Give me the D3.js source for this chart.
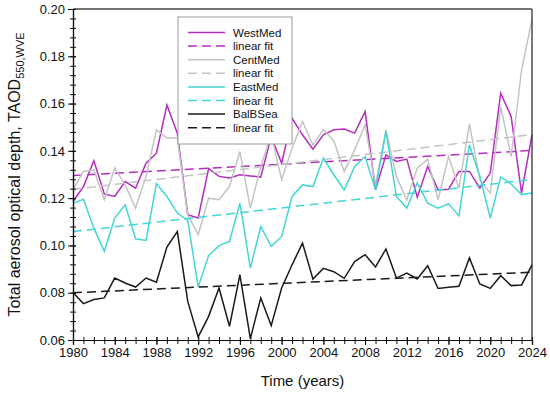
<!DOCTYPE html>
<html>
<head>
<meta charset="utf-8">
<script src="https://cdn.jsdelivr.net/npm/d3@7"></script>
<style>
  body { margin: 0; background: #fff; }
  text { font-family: Arial, "Liberation Sans", sans-serif; fill: #111; }
</style>
</head>
<body>
<svg width="550" height="399"></svg>
<script>
// yearly values
var years = d3.range(1980, 2025);

var westMed = [0.1186,0.1249,0.1358,0.1218,0.1207,0.1270,0.1242,0.1348,0.1390,0.1594,
  0.1475,0.1130,0.1116,0.1325,0.1292,0.1285,0.1299,0.1294,0.1289,0.1461,
  0.1348,0.1538,0.1468,0.1407,0.1468,0.1489,0.1492,0.1475,0.1566,0.1235,
  0.1383,0.1355,0.1365,0.1204,0.1334,0.1235,0.1238,0.1313,0.1313,0.1242,
  0.1306,0.1644,0.1545,0.1221,0.1468];

var centMed = [0.1235,0.1313,0.1320,0.1193,0.1327,0.1256,0.1158,0.1292,0.1489,0.1454,
  0.1454,0.1130,0.1045,0.1200,0.1193,0.1249,0.1397,0.1158,0.1334,0.1468,
  0.1278,0.1411,0.1524,0.1425,0.1490,0.1443,0.1313,0.1404,0.1510,0.1256,
  0.1490,0.1292,0.1193,0.1327,0.1365,0.1193,0.1376,0.1242,0.1514,0.1278,
  0.1221,0.1587,0.1376,0.1742,0.1956];

var eastMed = [0.1178,0.1195,0.1073,0.0975,0.1116,0.1172,0.1028,0.1021,0.1261,0.1207,
  0.1137,0.1106,0.0824,0.0957,0.0999,0.1017,0.1179,0.0904,0.1080,0.0996,
  0.1038,0.1207,0.1256,0.1249,0.1369,0.1299,0.1235,0.1334,0.1376,0.1235,
  0.1482,0.1207,0.1158,0.1264,0.1179,0.1158,0.1176,0.1125,0.1425,0.1292,
  0.1116,0.1290,0.1260,0.1215,0.1222];

var balBSea = [0.0801,0.0754,0.0771,0.0778,0.0862,0.0841,0.0824,0.0862,0.0844,0.0993,
  0.1059,0.0763,0.0613,0.0700,0.0820,0.0658,0.0876,0.0606,0.0778,0.0661,
  0.0820,0.0918,0.1010,0.0858,0.0903,0.0889,0.0861,0.0932,0.0961,0.0909,
  0.0985,0.0862,0.0883,0.0858,0.0914,0.0818,0.0823,0.0827,0.0947,0.0837,
  0.0818,0.0872,0.0830,0.0833,0.0918];

var seriesNames = ["WestMed", "CentMed", "EastMed", "BalBSea"];
var seriesColors = ["#b52dbf", "#c4c4c4", "#44d6d6", "#1a1a1a"];
var xTicks = d3.range(1980, 2025, 4);
var yTicks = [0.06, 0.08, 0.10, 0.12, 0.14, 0.16, 0.18, 0.20];

var svg = d3.select("svg");
var pLeft = 73, pRight = 532, pTop = 9, pBottom = 340;

var x = d3.scaleLinear().domain([1980, 2024]).range([pLeft, pRight]);
var y = d3.scaleLinear().domain([0.06, 0.20]).range([pBottom, pTop]);

// least squares fit for each series
function linFit(vals) {
  var mx = d3.mean(years), my = d3.mean(vals);
  var sxy = d3.sum(years, function(t, i) { return (t - mx) * (vals[i] - my); });
  var sxx = d3.sum(years, function(t) { return (t - mx) * (t - mx); });
  var b = sxy / sxx, a = my - b * mx;
  return [1980, 2024].map(function(t) { return [t, a + b * t]; });
}

var allSeries = [westMed, centMed, eastMed, balBSea];

var line = d3.line()
    .x(function(d) { return x(d[0]); })
    .y(function(d) { return y(d[1]); });

var plot = svg.append("g");

allSeries.forEach(function(vals, k) {
  plot.append("path")
      .datum(years.map(function(t, i) { return [t, vals[i]]; }))
      .attr("d", line)
      .attr("fill", "none")
      .attr("stroke", seriesColors[k])
      .attr("stroke-width", 1.5)
      .attr("stroke-linejoin", "miter");
  plot.append("path")
      .datum(linFit(vals))
      .attr("d", line)
      .attr("fill", "none")
      .attr("stroke", seriesColors[k])
      .attr("stroke-width", 1.5)
      .attr("stroke-dasharray", "9,5");
});

// frame: top and right
svg.append("line").attr("x1", pLeft).attr("x2", pRight).attr("y1", pTop).attr("y2", pTop)
    .attr("stroke", "#444").attr("stroke-width", 1.5);
svg.append("line").attr("x1", pRight).attr("x2", pRight).attr("y1", pTop).attr("y2", pBottom)
    .attr("stroke", "#222").attr("stroke-width", 1.2);

// x axis
var xAxis = svg.append("g").attr("transform", "translate(0," + pBottom + ")");
xAxis.append("g").call(d3.axisBottom(x).tickValues(d3.range(1980, 2025, 1)).tickSize(4).tickFormat(""));
xAxis.append("g").call(d3.axisBottom(x).tickValues(xTicks).tickSize(5).tickFormat(d3.format("d")));
xAxis.selectAll("path.domain").attr("stroke", "#111").attr("stroke-width", 1.2);
xAxis.selectAll("line").attr("stroke", "#111").attr("y1", -3);
xAxis.selectAll("text").attr("font-size", 13).style("font-family", "Arial, 'Liberation Sans', sans-serif").attr("fill", "#111");

// y axis
var yAxis = svg.append("g").attr("transform", "translate(" + pLeft + ",0)");
yAxis.append("g").call(d3.axisLeft(y).tickValues(d3.range(0.06, 0.2001, 0.004)).tickSize(3).tickFormat(""));
yAxis.append("g").call(d3.axisLeft(y).tickValues(yTicks).tickSize(5).tickFormat(d3.format(".2f")));
yAxis.selectAll("path.domain").attr("stroke", "#111").attr("stroke-width", 1.2);
yAxis.selectAll("line").attr("stroke", "#111").attr("x1", 3);
yAxis.selectAll("text").attr("font-size", 13).style("font-family", "Arial, 'Liberation Sans', sans-serif").attr("fill", "#111");

// axis titles
svg.append("text")
    .attr("x", (pLeft + pRight) / 2).attr("y", 386)
    .attr("text-anchor", "middle").attr("font-size", 15)
    .text("Time (years)");

var yt = svg.append("text")
    .attr("transform", "translate(20," + ((pTop + pBottom) / 2) + ") rotate(-90)")
    .attr("text-anchor", "middle").attr("font-size", 16);
yt.append("tspan").text("Total aerosol optical depth, TAOD");
yt.append("tspan").attr("font-size", 11).attr("dy", 4).text("550,WVE");

// legend
var lg = svg.append("g").attr("transform", "translate(178,17)");
lg.append("rect").attr("width", 114).attr("height", 127)
    .attr("fill", "#fff").attr("stroke", "#999").attr("stroke-width", 1);
var legendRows = [];
seriesNames.forEach(function(n, k) {
  legendRows.push({ label: n, color: seriesColors[k], dash: null });
  legendRows.push({ label: "linear fit", color: seriesColors[k], dash: "9,5" });
});
legendRows.forEach(function(r, i) {
  var ry = 15.5 + i * 13.6;
  lg.append("line").attr("x1", 10).attr("x2", 47).attr("y1", ry).attr("y2", ry)
      .attr("stroke", r.color).attr("stroke-width", 1.5)
      .attr("stroke-dasharray", r.dash);
  lg.append("text").attr("x", 55).attr("y", ry + 4).attr("font-size", 11.5).text(r.label);
});
</script>
</body>
</html>
